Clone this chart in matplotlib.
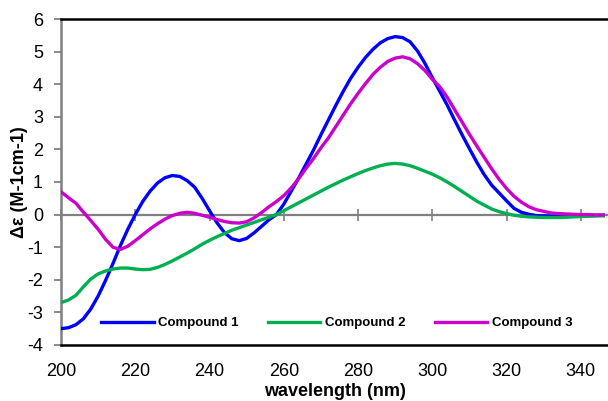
import matplotlib
matplotlib.use("Agg")
import matplotlib.pyplot as plt
import numpy as np

plt.rcParams["font.family"] = ["Liberation Sans", "DejaVu Sans"]
plt.rcParams["axes.unicode_minus"] = False

# longitudes de onda (nm), cada 2 nm
wavelength = list(range(200, 348, 2))

compound1 = [
    -3.50, -3.47, -3.38, -3.20, -2.90, -2.50, -2.02, -1.50, -0.95, -0.45,
    0.00, 0.40, 0.72, 0.97, 1.13, 1.20, 1.17, 1.04, 0.84, 0.50,
    0.12, -0.25, -0.55, -0.74, -0.80, -0.73, -0.56, -0.36, -0.16, 0.00,
    0.32, 0.72, 1.12, 1.55, 1.98, 2.45, 2.90, 3.35, 3.78, 4.18,
    4.52, 4.82, 5.07, 5.27, 5.40, 5.46, 5.43, 5.30, 5.02, 4.64,
    4.20, 3.78, 3.36, 2.90, 2.45, 2.02, 1.60, 1.22, 0.90, 0.66,
    0.42, 0.19, 0.07, 0.01, -0.03, -0.04, -0.05, -0.05, -0.05, -0.04,
    -0.04, -0.03, -0.03, -0.02,
]

compound2 = [
    -2.70, -2.62, -2.48, -2.22, -1.98, -1.82, -1.73, -1.67, -1.64, -1.64,
    -1.67, -1.69, -1.68, -1.62, -1.53, -1.42, -1.30, -1.18, -1.05, -0.91,
    -0.79, -0.68, -0.58, -0.48, -0.40, -0.32, -0.24, -0.16, -0.08, 0.00,
    0.12, 0.24, 0.36, 0.48, 0.60, 0.72, 0.84, 0.95, 1.06, 1.16,
    1.26, 1.35, 1.43, 1.50, 1.55, 1.57, 1.55, 1.50, 1.42, 1.33,
    1.24, 1.13, 1.00, 0.86, 0.71, 0.56, 0.41, 0.29, 0.17, 0.09,
    0.03, -0.02, -0.05, -0.07, -0.08, -0.09, -0.09, -0.09, -0.08, -0.07,
    -0.06, -0.05, -0.04, -0.04,
]

compound3 = [
    0.70, 0.52, 0.35, 0.08, -0.18, -0.45, -0.76, -1.00, -1.07, -0.97,
    -0.80, -0.62, -0.44, -0.28, -0.14, -0.03, 0.04, 0.07, 0.04, -0.02,
    -0.08, -0.15, -0.21, -0.25, -0.26, -0.22, -0.10, 0.06, 0.24, 0.40,
    0.58, 0.82, 1.10, 1.42, 1.72, 2.05, 2.35, 2.70, 3.05, 3.40,
    3.72, 4.02, 4.30, 4.52, 4.70, 4.80, 4.84, 4.78, 4.63, 4.42,
    4.15, 3.92, 3.60, 3.22, 2.84, 2.46, 2.10, 1.75, 1.40, 1.08,
    0.80, 0.56, 0.38, 0.24, 0.15, 0.10, 0.05, 0.03, 0.02, 0.01,
    0.00, 0.00, -0.01, -0.01,
]

xticks = [200, 220, 240, 260, 280, 300, 320, 340]
yticks = [-4, -3, -2, -1, 0, 1, 2, 3, 4, 5, 6]

fig = plt.figure(figsize=(6.08, 4.01), dpi=100)
ax = fig.add_axes([0.1003, 0.1397, 0.8997, 0.8129])

# linea del cero con sus marcas, como en excel
ax.axhline(0, color="#808080", lw=1.6, zorder=1)
ax.plot(xticks, [0] * len(xticks), ls="none", marker="|", ms=9, mew=1.2,
        color="#808080", zorder=1, clip_on=False)

ax.plot(wavelength, compound1, color="#0000FF", lw=2.4, label="Compound 1",
        solid_joinstyle="round", zorder=3)
ax.plot(wavelength, compound2, color="#00B050", lw=2.4, label="Compound 2",
        solid_joinstyle="round", zorder=3)
ax.plot(wavelength, compound3, color="#CC00CC", lw=2.4, label="Compound 3",
        solid_joinstyle="round", zorder=3)

ax.set_xlim(200, 347.3)
ax.set_ylim(-4, 6)
ax.set_xticks(xticks)
ax.set_yticks(yticks)

ax.spines["right"].set_visible(False)
ax.spines["left"].set_color("#808080")
ax.spines["left"].set_linewidth(1.8)
ax.spines["top"].set_color("black")
ax.spines["top"].set_linewidth(1.8)
ax.spines["bottom"].set_color("black")
ax.spines["bottom"].set_linewidth(1.8)

ax.tick_params(axis="x", length=0, pad=13, labelsize=13)
ax.tick_params(axis="y", length=5, width=1.3, color="#808080", pad=8,
               labelsize=13, direction="out")

ax.set_xlabel("wavelength (nm)", fontsize=13, fontweight="bold", labelpad=2)
ax.set_ylabel("Δε (M-1cm-1)", fontsize=13, fontweight="bold", labelpad=-1)

ax.legend(loc="center", bbox_to_anchor=(0.504, 0.067), ncol=3, frameon=False,
          prop={"weight": "bold", "size": 9.5}, handlelength=4.0,
          handletextpad=0.35, columnspacing=2.2)

fig.savefig("out.png", dpi=100)
